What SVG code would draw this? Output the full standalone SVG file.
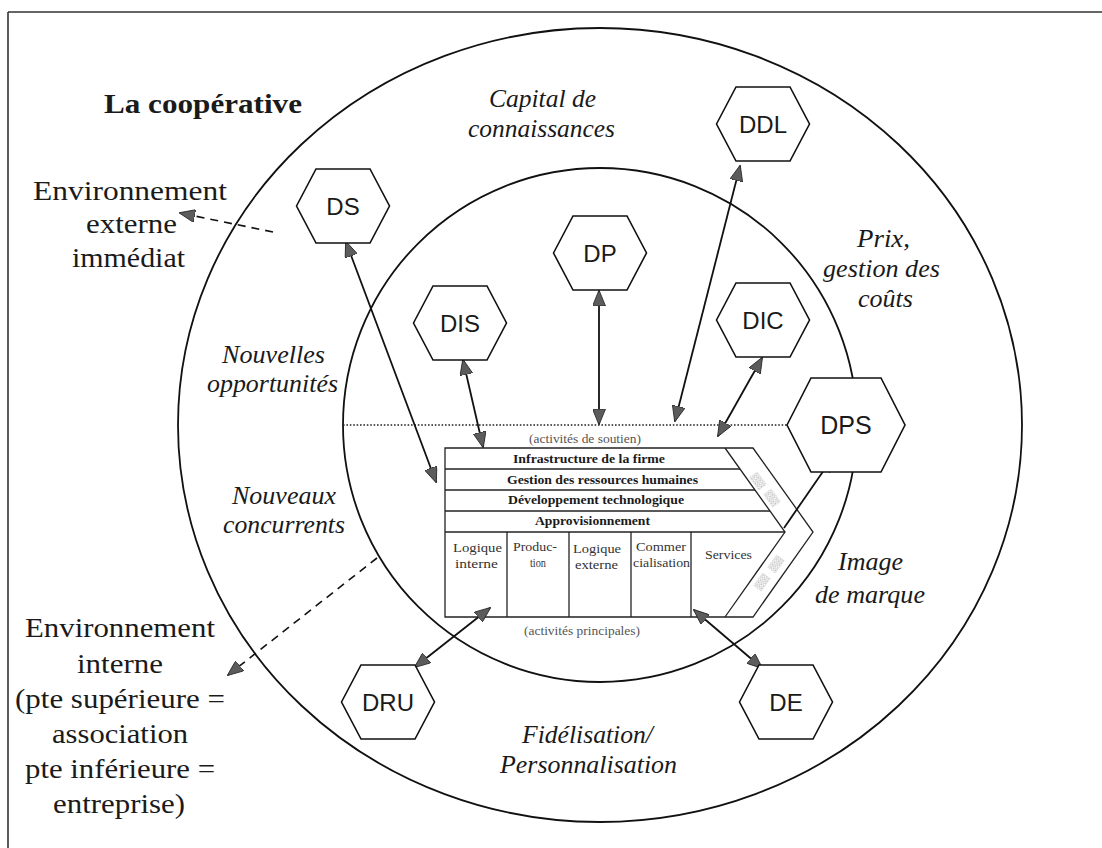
<svg xmlns="http://www.w3.org/2000/svg" width="1102" height="848" viewBox="0 0 1102 848">
  <defs>
    <style>
      .ring { fill: none; stroke: #111; stroke-width: 1.8; }
      .hex { fill: #fff; stroke: #111; stroke-width: 1.6; }
      .hexlabel { font-family: "Liberation Sans", Arial, sans-serif; font-size: 24px; fill: #1a1a1a; text-anchor: middle; }
      .link { fill: none; stroke: #111; stroke-width: 1.8; marker-start: url(#head); marker-end: url(#head); }
      .link-one { fill: none; stroke: #111; stroke-width: 1.8; marker-end: url(#head); }
      .dash { fill: none; stroke: #111; stroke-width: 1.6; stroke-dasharray: 8 6; marker-end: url(#head); }
      .serif { font-family: "Liberation Serif", "Times New Roman", serif; fill: #1a1a1a; }
      .big { font-size: 27px; }
      .ital { font-size: 25px; font-style: italic; }
      .vc-line { fill: none; stroke: #222; stroke-width: 1.3; }
      .vc-row { font-family: "Liberation Serif", "Times New Roman", serif; font-size: 13px; font-weight: bold; fill: #1a1a1a; }
      .vc-col { font-family: "Liberation Serif", "Times New Roman", serif; font-size: 12.5px; fill: #333; }
      .vc-note { font-family: "Liberation Serif", "Times New Roman", serif; font-size: 12px; fill: #555; }
    </style>
    <marker id="head" viewBox="0 0 16 13" markerWidth="16" markerHeight="13" refX="15" refY="6.5" orient="auto-start-reverse" markerUnits="userSpaceOnUse">
      <path d="M0,0 L16,6.5 L0,13 z" fill="#5c5c5c" stroke="#222" stroke-width="0.8"/>
    </marker>
    <pattern id="grain" width="3" height="3" patternUnits="userSpaceOnUse">
      <rect width="3" height="3" fill="#fff"/>
      <rect width="1.5" height="1.5" fill="#aaa"/>
      <rect x="1.5" y="1.5" width="1.5" height="1.5" fill="#c8c8c8"/>
    </pattern>
  </defs>

  <rect width="1102" height="848" fill="#fff"/>

  <!-- page frame -->
  <g id="frame">
    <line x1="8" y1="12" x2="1102" y2="12" stroke="#333" stroke-width="1.6"/>
    <line x1="8" y1="12" x2="8" y2="848" stroke="#333" stroke-width="1.6"/>
  </g>

  <!-- outer and inner environments -->
  <g id="rings">
    <ellipse class="ring" cx="600" cy="425" rx="422" ry="397"/>
    <circle class="ring" cx="600" cy="425" r="257"/>
    <line x1="343" y1="425" x2="787" y2="425" stroke="#222" stroke-width="1.5" stroke-dasharray="1.6 1.8"/>
  </g>

  <!-- value chain -->
  <g id="value-chain">
    <!-- margin band -->
    <path d="M725,448 L753,448 L813,532 L753,617 L725,617 L785,532 Z" fill="#fff" stroke="none"/>
    <g fill="url(#grain)" opacity="0.8">
      <rect x="-8" y="-5" width="16" height="10" transform="translate(758,481) rotate(54)"/>
      <rect x="-8" y="-5" width="16" height="10" transform="translate(772,498) rotate(54)"/>
      <rect x="-8" y="-5" width="16" height="10" transform="translate(776,564) rotate(-54)"/>
      <rect x="-8" y="-5" width="16" height="10" transform="translate(762,582) rotate(-54)"/>
    </g>
    <path class="vc-line" d="M445,448 L753,448 L813,532 L753,617 L445,617 Z"/>
    <path class="vc-line" d="M725,448 L785,532 L725,617"/>
    <line class="vc-line" x1="445" y1="469" x2="740" y2="469"/>
    <line class="vc-line" x1="445" y1="490" x2="755" y2="490"/>
    <line class="vc-line" x1="445" y1="511" x2="770" y2="511"/>
    <line class="vc-line" x1="445" y1="532" x2="785" y2="532"/>
    <line class="vc-line" x1="507" y1="532" x2="507" y2="617"/>
    <line class="vc-line" x1="569" y1="532" x2="569" y2="617"/>
    <line class="vc-line" x1="631" y1="532" x2="631" y2="617"/>
    <line class="vc-line" x1="691" y1="532" x2="691" y2="617"/>

    <text class="vc-note" x="529" y="443" textLength="112" lengthAdjust="spacingAndGlyphs">(activités de soutien)</text>
    <text class="vc-row" x="513" y="463" textLength="152" lengthAdjust="spacingAndGlyphs">Infrastructure de la firme</text>
    <text class="vc-row" x="507" y="484" textLength="191" lengthAdjust="spacingAndGlyphs">Gestion des ressources humaines</text>
    <text class="vc-row" x="508" y="504" textLength="176" lengthAdjust="spacingAndGlyphs">Développement technologique</text>
    <text class="vc-row" x="535" y="525" textLength="115" lengthAdjust="spacingAndGlyphs">Approvisionnement</text>

    <text class="vc-col" x="453" y="552" textLength="49" lengthAdjust="spacingAndGlyphs">Logique</text>
    <text class="vc-col" x="455" y="568" textLength="43" lengthAdjust="spacingAndGlyphs">interne</text>
    <text class="vc-col" x="513" y="551" textLength="44" lengthAdjust="spacingAndGlyphs">Produc-</text>
    <text class="vc-col" x="530" y="567" textLength="16" lengthAdjust="spacingAndGlyphs">tion</text>
    <text class="vc-col" x="573" y="553" textLength="48" lengthAdjust="spacingAndGlyphs">Logique</text>
    <text class="vc-col" x="575" y="569" textLength="43" lengthAdjust="spacingAndGlyphs">externe</text>
    <text class="vc-col" x="636" y="551" textLength="50" lengthAdjust="spacingAndGlyphs">Commer</text>
    <text class="vc-col" x="633" y="567" textLength="57" lengthAdjust="spacingAndGlyphs">cialisation</text>
    <text class="vc-col" x="705" y="559" textLength="47" lengthAdjust="spacingAndGlyphs">Services</text>
    <text class="vc-note" x="524" y="635" textLength="116" lengthAdjust="spacingAndGlyphs">(activités principales)</text>
  </g>

  <!-- connectors -->
  <g id="connectors">
    <line class="link" x1="346" y1="242" x2="436" y2="482"/>
    <line class="link" x1="463" y1="360" x2="483" y2="447"/>
    <line class="link" x1="599" y1="291" x2="599" y2="424"/>
    <line class="link" x1="740" y1="166" x2="675" y2="421"/>
    <line class="link" x1="762" y1="358" x2="718" y2="436"/>
    <line class="link-one" x1="784" y1="528" x2="833" y2="457"/>
    <line class="link" x1="415" y1="667" x2="490" y2="608"/>
    <line class="link" x1="694" y1="610" x2="762" y2="668"/>
    <line class="dash" x1="273" y1="232" x2="180" y2="213"/>
    <line class="dash" x1="377" y1="558" x2="228" y2="675"/>
  </g>

  <!-- nodes -->
  <g id="node-DS">
    <polygon class="hex" points="296.5,206 316,169 370,169 389.5,206 370,243 316,243"/>
    <text class="hexlabel" x="343" y="215">DS</text>
  </g>
  <g id="node-DIS">
    <polygon class="hex" points="413.5,323 433,286 487,286 506.5,323 487,360 433,360"/>
    <text class="hexlabel" x="460" y="332">DIS</text>
  </g>
  <g id="node-DP">
    <polygon class="hex" points="553.5,253 573,216 627,216 646.5,253 627,290 573,290"/>
    <text class="hexlabel" x="600" y="262">DP</text>
  </g>
  <g id="node-DDL">
    <polygon class="hex" points="716.5,124 736,87 790,87 809.5,124 790,161 736,161"/>
    <text class="hexlabel" x="763" y="133">DDL</text>
  </g>
  <g id="node-DIC">
    <polygon class="hex" points="716.5,320 736,283 790,283 809.5,320 790,357 736,357"/>
    <text class="hexlabel" x="763" y="329">DIC</text>
  </g>
  <g id="node-DPS">
    <polygon class="hex" points="787,425 811,378 881,378 905,425 881,472 811,472"/>
    <text class="hexlabel" x="846" y="434" style="font-size:25px">DPS</text>
  </g>
  <g id="node-DRU">
    <polygon class="hex" points="341.5,702 361,665 415,665 434.5,702 415,739 361,739"/>
    <text class="hexlabel" x="388" y="711">DRU</text>
  </g>
  <g id="node-DE">
    <polygon class="hex" points="739.5,702 759,665 813,665 832.5,702 813,739 759,739"/>
    <text class="hexlabel" x="786" y="711">DE</text>
  </g>

  <!-- labels -->
  <g id="labels">
    <text class="serif big" x="104" y="113" font-weight="bold" textLength="198" lengthAdjust="spacingAndGlyphs">La coopérative</text>

    <text class="serif big" x="33" y="200" textLength="194" lengthAdjust="spacingAndGlyphs">Environnement</text>
    <text class="serif big" x="86" y="233" textLength="91" lengthAdjust="spacingAndGlyphs">externe</text>
    <text class="serif big" x="72" y="267" textLength="113" lengthAdjust="spacingAndGlyphs">immédiat</text>

    <text class="serif big" x="25" y="637" textLength="190" lengthAdjust="spacingAndGlyphs">Environnement</text>
    <text class="serif big" x="77" y="673" textLength="86" lengthAdjust="spacingAndGlyphs">interne</text>
    <text class="serif big" x="15" y="708" textLength="210" lengthAdjust="spacingAndGlyphs">(pte supérieure =</text>
    <text class="serif big" x="52" y="743" textLength="136" lengthAdjust="spacingAndGlyphs">association</text>
    <text class="serif big" x="25" y="778" textLength="190" lengthAdjust="spacingAndGlyphs">pte inférieure =</text>
    <text class="serif big" x="53" y="813" textLength="132" lengthAdjust="spacingAndGlyphs">entreprise)</text>

    <text class="serif ital" x="489" y="107" textLength="107" lengthAdjust="spacingAndGlyphs">Capital de</text>
    <text class="serif ital" x="468" y="137" textLength="147" lengthAdjust="spacingAndGlyphs">connaissances</text>
    <text class="serif ital" x="857" y="247" textLength="53" lengthAdjust="spacingAndGlyphs">Prix,</text>
    <text class="serif ital" x="823" y="277" textLength="117" lengthAdjust="spacingAndGlyphs">gestion des</text>
    <text class="serif ital" x="858" y="307" textLength="55" lengthAdjust="spacingAndGlyphs">coûts</text>
    <text class="serif ital" x="222" y="363" textLength="103" lengthAdjust="spacingAndGlyphs">Nouvelles</text>
    <text class="serif ital" x="207" y="392" textLength="131" lengthAdjust="spacingAndGlyphs">opportunités</text>
    <text class="serif ital" x="232" y="504" textLength="104" lengthAdjust="spacingAndGlyphs">Nouveaux</text>
    <text class="serif ital" x="223" y="533" textLength="122" lengthAdjust="spacingAndGlyphs">concurrents</text>
    <text class="serif ital" x="838" y="570" textLength="65" lengthAdjust="spacingAndGlyphs">Image</text>
    <text class="serif ital" x="815" y="603" textLength="110" lengthAdjust="spacingAndGlyphs">de marque</text>
    <text class="serif ital" x="522" y="743" textLength="131" lengthAdjust="spacingAndGlyphs">Fidélisation/</text>
    <text class="serif ital" x="500" y="773" textLength="177" lengthAdjust="spacingAndGlyphs">Personnalisation</text>
  </g>
</svg>
